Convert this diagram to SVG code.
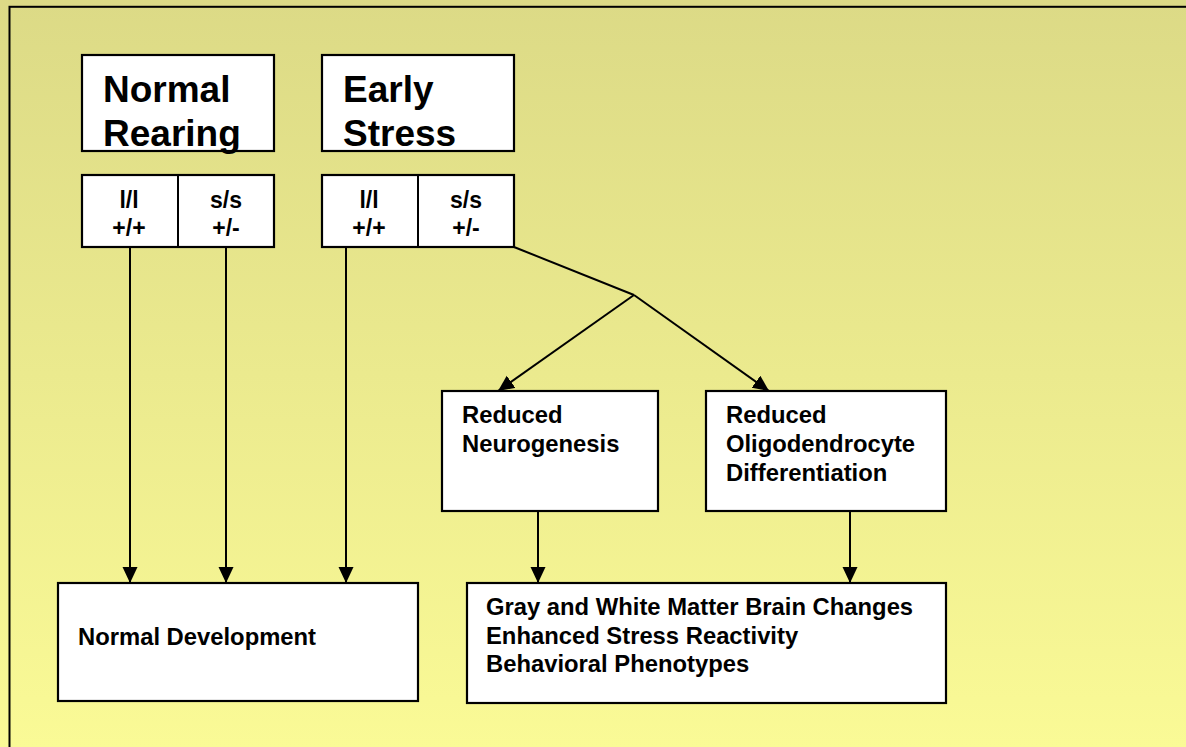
<svg xmlns="http://www.w3.org/2000/svg" width="1186" height="747" viewBox="0 0 1186 747">
<defs>
<linearGradient id="bg" x1="0" y1="0" x2="0" y2="1">
<stop offset="0" stop-color="#DCDA86"/>
<stop offset="1" stop-color="#FAFA96"/>
</linearGradient>
<marker id="ah" markerUnits="userSpaceOnUse" markerWidth="17" markerHeight="16" refX="16" refY="7.5" orient="auto">
<path d="M0,0 L16,7.5 L0,15 Z" fill="#000"/>
</marker>
<style>
.box{fill:#fff;stroke:#000;stroke-width:2.2}
.t{font-family:"Liberation Sans",Arial,Helvetica,sans-serif;font-weight:bold;fill:#000}
.big{font-size:37px}
.body{font-size:23.8px}
.gen{font-size:23px;text-anchor:middle}
.c{stroke:#000;stroke-width:2;fill:none}
.a{marker-end:url(#ah)}
</style>
</defs>
<rect x="0" y="0" width="1186" height="747" fill="url(#bg)"/>
<rect x="9.5" y="6.8" width="1200" height="760" fill="none" stroke="#000" stroke-width="2"/>

<g id="connectors">
<line class="c a" x1="130" y1="247" x2="130" y2="583"/>
<line class="c a" x1="226" y1="247" x2="226" y2="583"/>
<line class="c a" x1="346" y1="247" x2="346" y2="583"/>
<line class="c" x1="514" y1="247" x2="634" y2="295"/>
<line class="c a" x1="634" y1="295" x2="498" y2="391"/>
<line class="c a" x1="634" y1="295" x2="769" y2="391"/>
<line class="c a" x1="538" y1="511" x2="538" y2="583"/>
<line class="c a" x1="850" y1="511" x2="850" y2="583"/>
</g>

<g id="normal-rearing">
<rect class="box" x="82" y="55" width="192" height="96"/>
<text class="t big" x="103" y="102">Normal</text>
<text class="t big" x="103" y="146">Rearing</text>
</g>

<g id="early-stress">
<rect class="box" x="322" y="55" width="192" height="96"/>
<text class="t big" x="343" y="102">Early</text>
<text class="t big" x="343" y="146">Stress</text>
</g>

<g id="genotype-normal">
<rect class="box" x="82" y="175" width="192" height="72"/>
<line class="c" x1="178" y1="175" x2="178" y2="247"/>
<text class="t gen" x="129" y="208">l/l</text>
<text class="t gen" x="129" y="236">+/+</text>
<text class="t gen" x="226" y="208">s/s</text>
<text class="t gen" x="226" y="236">+/-</text>
</g>

<g id="genotype-early">
<rect class="box" x="322" y="175" width="192" height="72"/>
<line class="c" x1="418" y1="175" x2="418" y2="247"/>
<text class="t gen" x="369" y="208">l/l</text>
<text class="t gen" x="369" y="236">+/+</text>
<text class="t gen" x="466" y="208">s/s</text>
<text class="t gen" x="466" y="236">+/-</text>
</g>

<g id="reduced-neurogenesis">
<rect class="box" x="442" y="391" width="216" height="120"/>
<text class="t body" x="462" y="423">Reduced</text>
<text class="t body" x="462" y="452">Neurogenesis</text>
</g>

<g id="reduced-oligodendrocyte">
<rect class="box" x="706" y="391" width="240" height="120"/>
<text class="t body" x="726" y="423">Reduced</text>
<text class="t body" x="726" y="452">Oligodendrocyte</text>
<text class="t body" x="726" y="480.5">Differentiation</text>
</g>

<g id="normal-development">
<rect class="box" x="58" y="583" width="360" height="118"/>
<text class="t body" x="78" y="645">Normal Development</text>
</g>

<g id="outcomes">
<rect class="box" x="467" y="583" width="479" height="120"/>
<text class="t body" x="486" y="615">Gray and White Matter Brain Changes</text>
<text class="t body" x="486" y="643.5">Enhanced Stress Reactivity</text>
<text class="t body" x="486" y="672">Behavioral Phenotypes</text>
</g>
</svg>
